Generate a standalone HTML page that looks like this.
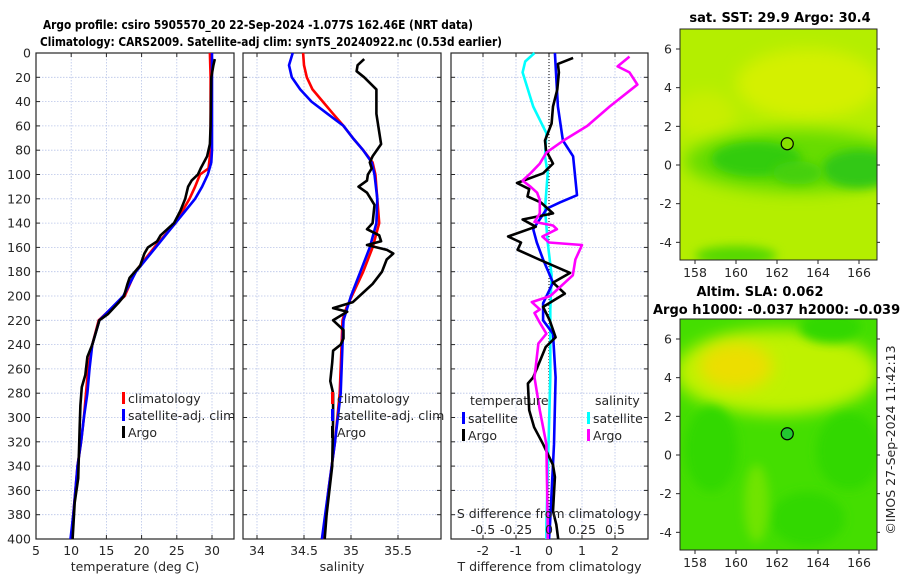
<!DOCTYPE html>
<html><head><meta charset="utf-8"><style>
html,body{margin:0;padding:0;background:#fff;}
svg{display:block;font-family:"DejaVu Sans","Liberation Sans",sans-serif;}
.tk{font-size:12.5px;fill:#262626;}
.tt{font-size:13px;font-weight:bold;fill:#000;}
</style></head><body>
<svg id="fig" width="900" height="580" viewBox="0 0 900 580" xmlns="http://www.w3.org/2000/svg">
<defs>
<filter id="blr" x="-50%" y="-50%" width="200%" height="200%"><feGaussianBlur stdDeviation="8"/></filter>
<filter id="blr2" x="-50%" y="-50%" width="200%" height="200%"><feGaussianBlur stdDeviation="5"/></filter>
<clipPath id="cm1"><rect x="680" y="29" width="197" height="231"/></clipPath>
<clipPath id="cm2"><rect x="680" y="319" width="197" height="231"/></clipPath>
</defs>
<text class="tt" x="43" y="29" textLength="430" lengthAdjust="spacingAndGlyphs" style="font-size:12.5px">Argo profile: csiro 5905570_20 22-Sep-2024 -1.077S 162.46E (NRT data)</text>
<text class="tt" x="40" y="46" textLength="462" lengthAdjust="spacingAndGlyphs" style="font-size:12.5px">Climatology: CARS2009. Satellite-adj clim: synTS_20240922.nc (0.53d earlier)</text>
<g id="panels"></g>
<g id="maps"></g>
<text class="tk" transform="translate(895,440) rotate(-90)" text-anchor="middle" font-size="12.5">©IMOS 27-Sep-2024 11:42:13</text>
</svg>
<script>
// ---- data (depth in m) ----
const tClimDepth=[0,20,80,95,100,110,120,130,140,160,180,200,220,240,260,280,300,320,340,360,380,400];
const tClimVal=[29.7,29.8,29.8,29.5,28.3,27.6,26.8,25.8,24.8,21.8,19.1,17.6,13.9,13.0,12.4,12.1,11.8,11.4,10.9,10.6,10.3,10.0];
const tSatDepth=[0,80,90,100,110,120,130,140,160,180,200,220,240,260,280,300,320,340,360,380,400];
const tSatVal=[30.0,30.0,29.9,29.4,28.6,27.6,26.2,24.8,22.0,19.2,17.4,14.0,13.0,12.6,12.3,11.8,11.4,10.9,10.6,10.3,9.9];
const tArgoDepth=[5,10,20,60,75,85,95,100,105,110,120,130,140,150,155,160,165,175,185,190,200,205,215,220,240,250,265,275,290,310,330,350,370,400];
const tArgoVal=[30.4,30.2,29.9,29.8,29.7,29.3,28.4,28.0,27.1,26.6,26.2,25.5,24.6,22.7,22.2,20.9,20.4,19.8,18.3,18.0,17.5,16.8,15.2,14.0,13.0,12.3,12.0,11.5,11.3,11.2,11.1,11.0,10.5,10.2];

const sClimDepth=[0,10,20,30,40,50,60,70,80,90,100,120,140,160,180,200,210,220,240,280,320,360,400];
const sClimVal=[34.49,34.50,34.53,34.59,34.70,34.81,34.92,35.02,35.13,35.23,35.26,35.28,35.30,35.23,35.13,35.01,34.95,34.91,34.90,34.88,34.83,34.76,34.70];
const sSatDepth=[0,10,20,30,40,50,60,70,80,90,100,120,140,160,180,200,220,240,280,320,360,400];
const sSatVal=[34.38,34.34,34.37,34.46,34.58,34.75,34.92,35.02,35.13,35.22,35.25,35.28,35.27,35.20,35.10,35.00,34.92,34.91,34.89,34.83,34.76,34.69];
const sArgoDepth=[5,10,15,20,30,50,65,75,85,90,95,100,105,110,115,125,140,145,150,155,158,162,165,170,180,190,200,205,210,213,220,228,235,240,245,255,270,280,300,340,360,380,400];
const sArgoVal=[35.14,35.07,35.06,35.14,35.27,35.27,35.30,35.32,35.23,35.20,35.22,35.18,35.17,35.08,35.17,35.25,35.23,35.17,35.30,35.32,35.17,35.38,35.45,35.38,35.33,35.23,35.09,35.02,34.81,34.96,34.81,34.92,34.92,34.89,34.81,34.80,34.78,34.81,34.81,34.80,34.77,34.74,34.72];

const dTSatDepth=[0,44,72,85,117,123,128,145,156,170,189,206,220,231,267,322,388,400];
const dTSatVal=[0.18,0.27,0.42,0.73,0.85,0.33,-0.06,-0.48,-0.37,-0.18,0.12,-0.18,-0.18,0.12,0.20,0.15,0.03,0.0];
const dTArgoDepth=[4,9,16,30,44,58,72,80,91,99,107,112,118,123,132,137,143,151,156,162,170,181,189,198,209,220,234,242,267,272,294,308,322,339,349,377,388,400];
const dTArgoVal=[0.73,0.27,0.30,0.25,0.12,0.08,-0.12,-0.09,0.12,-0.18,-0.97,-0.6,-0.65,-0.25,0.12,-0.8,-0.4,-1.24,-0.85,-0.95,-0.3,0.64,0.12,0.48,-0.18,0.02,0.2,-0.1,-0.48,-0.64,-0.6,-0.45,-0.18,0.12,0.18,0.12,0.22,0.28];
const dSSatDepth=[0,7,16,44,66,85,99,128,156,183,211,267,388,400];
const dSSatVal=[-0.11,-0.18,-0.20,-0.12,-0.02,-0.03,-0.01,-0.03,-0.01,0.02,0.01,0.01,-0.02,-0.02];
const dSArgoDepth=[3,11,16,26,44,60,72,82,91,99,105,110,115,121,132,139,142,145,151,156,158,170,183,200,205,211,214,222,231,239,267,294,322,388,400];
const dSArgoVal=[0.61,0.52,0.61,0.67,0.46,0.29,0.11,-0.02,-0.07,-0.14,-0.20,-0.14,-0.09,-0.07,-0.07,-0.11,0.03,0.06,-0.05,0.0,0.25,0.20,0.18,0.01,-0.13,-0.07,-0.11,-0.07,-0.02,-0.08,-0.11,-0.07,-0.02,-0.01,-0.01];

const depthTicks=[0,20,40,60,80,100,120,140,160,180,200,220,240,260,280,300,320,340,360,380,400];
const tTicks=[5,10,15,20,25,30];
const sTicks=[34,34.5,35,35.5];
const dTTicks=[-2,-1,0,1,2];
const dSTicks=[-0.5,-0.25,0,0.25,0.5];
const dSTickLabels=["-0.5","-0.25","0","0.25","0.5"];
const lonTicks=[158,160,162,164,166];
const latTicks=[6,4,2,0,-2,-4];
const argoLon=162.5, argoLat=1.1;

const NS="http://www.w3.org/2000/svg";
function mk(tag,attrs,parent,text){const e=document.createElementNS(NS,tag);for(const k in attrs)e.setAttribute(k,attrs[k]);if(text!==undefined)e.textContent=text;parent.appendChild(e);return e;}
const Y0=53,Y1=539;
const yD=d=>Y0+d/400*(Y1-Y0);
function lin(d0,d1,r0,r1){return v=>r0+(v-d0)/(d1-d0)*(r1-r0);}
const panels=document.getElementById('panels');

function panel(name,x0,x1,xs,ticks,labels,xlabel,showY){
  const g=mk('g',{},panels);
  
  
  depthTicks.forEach(d=>{const l=mk('line',{x1:x0,x2:x1,y1:yD(d),y2:yD(d),stroke:'#b8c4e8','stroke-width':0.8,'stroke-dasharray':'1.5,1.5'},g);
    
    mk('line',{x1:x0,x2:x0+4,y1:yD(d),y2:yD(d),stroke:'#262626'},g);mk('line',{x1:x1-4,x2:x1,y1:yD(d),y2:yD(d),stroke:'#262626'},g);
    if(showY){const t=mk('text',{class:'tk',x:x0-5,y:yD(d)+4.5,'text-anchor':'end'},g,String(d));}
  });
  ticks.forEach((v,i)=>{const x=xs(v);const l=mk('line',{x1:x,x2:x,y1:Y0,y2:Y1,stroke:'#b8c4e8','stroke-width':0.8,'stroke-dasharray':'1.5,1.5'},g);
    
    mk('line',{x1:x,x2:x,y1:Y1-4,y2:Y1,stroke:'#262626'},g);mk('line',{x1:x,x2:x,y1:Y0,y2:Y0+4,stroke:'#262626'},g);
    if(labels){const t=mk('text',{class:'tk',x:x,y:Y1+16,'text-anchor':'middle'},g,labels[i]);}
  });
  const f=mk('rect',{x:x0,y:Y0,width:x1-x0,height:Y1-Y0,fill:'none',stroke:'#262626','stroke-width':1.2},g);
  
  if(xlabel){const t=mk('text',{class:'tk',x:(x0+x1)/2,y:571,'text-anchor':'middle',"font-size":13},g,xlabel);}
  return g;
}
function line(g,name,xs,depths,vals,color,w,dash){
  const pts=depths.map((d,i)=>xs(vals[i]).toFixed(1)+','+yD(d).toFixed(1)).join(' ');
  const p=mk('polyline',{points:pts,fill:'none',stroke:color,'stroke-width':w||2.6,'stroke-linejoin':'round'},g);
  if(dash)p.setAttribute('stroke-dasharray',dash);
  
  
}
function legend(g,x,y,items){
  items.forEach((it,i)=>{const yy=y+i*17;
    mk('rect',{x:x,y:yy-9,width:3,height:12,fill:it[1]},g);
    const t=mk('text',{class:'tk',x:x+6,y:yy+2,"font-size":13},g,it[0]);
    });
}
// Panel 1: temperature
const xT=lin(5,30,36,212);
const g1=panel('temperature-panel',36,234,xT,tTicks,tTicks.map(String),'temperature (deg C)',true);
line(g1,'temperature-climatology',xT,tClimDepth,tClimVal,'#ff0000');
line(g1,'temperature-satellite',xT,tSatDepth,tSatVal,'#0000ff');
line(g1,'temperature-argo',xT,tArgoDepth,tArgoVal,'#000000');
legend(g1,122,401,[['climatology','#ff0000'],['satellite-adj. clim','#0000ff'],['Argo','#000000']]);
// Panel 2: salinity
const xS=lin(34,35.5,257,398);
const g2=panel('salinity-panel',243,441,xS,sTicks,sTicks.map(String),'salinity',false);
line(g2,'salinity-climatology',xS,sClimDepth,sClimVal,'#ff0000');
line(g2,'salinity-satellite',xS,sSatDepth,sSatVal,'#0000ff');
line(g2,'salinity-argo',xS,sArgoDepth,sArgoVal,'#000000');
legend(g2,331,401,[['climatology','#ff0000'],['satellite-adj. clim','#0000ff'],['Argo','#000000']]);
// Panel 3: differences
const xDT=lin(-1,1,516,582);
const xDS=lin(-0.25,0.25,516,582);
const g3=panel('difference-panel',451,648,xDT,dTTicks,dTTicks.map(String),'T difference from climatology',false);
const z=mk('line',{x1:xDT(0),x2:xDT(0),y1:Y0,y2:Y1,stroke:'#000','stroke-width':1,'stroke-dasharray':'1,2'},g3);

line(g3,'salinity-diff-satellite',xDS,dSSatDepth,dSSatVal,'#00ffff');
line(g3,'temperature-diff-satellite',xDT,dTSatDepth,dTSatVal,'#0000ff');
line(g3,'temperature-diff-argo',xDT,dTArgoDepth,dTArgoVal,'#000000');
line(g3,'salinity-diff-argo',xDS,dSArgoDepth,dSArgoVal,'#ff00ff');
let t=mk('text',{class:'tk',x:470,y:405,"font-size":13},g3,'temperature');
t=mk('text',{class:'tk',x:595,y:405,"font-size":13},g3,'salinity');
legend(g3,462,421,[['satellite','#0000ff'],['Argo','#000000']]);
legend(g3,587,421,[['satellite','#00ffff'],['Argo','#ff00ff']]);
t=mk('text',{class:'tk',x:549,y:518,'text-anchor':'middle',"font-size":13},g3,'S difference from climatology');
dSTicks.forEach((v,i)=>{const tt=mk('text',{class:'tk',x:xDS(v),y:534,'text-anchor':'middle'},g3,dSTickLabels[i]);
  });

// ---- maps ----
const maps=document.getElementById('maps');
const lonX=lin(158,166,695,859);
function mapAxes(name,top,title,blobs,base,markerFill){
  const latY=lin(6,0,top+20,top+136);
  const g=mk('g',{},maps);
  
  
  const c=mk('g',{'clip-path':'url(#'+(top<100?'cm1':'cm2')+')'},g);
  mk('rect',{x:680,y:top,width:197,height:231,fill:base},c);
  blobs.forEach(b=>{mk('ellipse',{cx:lonX(b[0]),cy:latY(b[1]),rx:b[2]*20.5,ry:b[3]*19.4,fill:b[4],filter:'url(#'+(b[5]||'blr')+')'},c);});
  const m=mk('circle',{cx:lonX(argoLon),cy:latY(argoLat),r:6,fill:markerFill,stroke:'#000','stroke-width':1.2},g);
  
  const f=mk('rect',{x:680,y:top,width:197,height:231,fill:'none',stroke:'#262626','stroke-width':1},g);
  
  lonTicks.forEach(v=>{const x=lonX(v);mk('line',{x1:x,x2:x,y1:top+231,y2:top+235,stroke:'#262626'},g);
    const tt=mk('text',{class:'tk',x:x,y:top+248,'text-anchor':'middle'},g,String(v));});
  latTicks.forEach(v=>{const y=latY(v);mk('line',{x1:676,x2:680,y1:y,y2:y,stroke:'#262626'},g);mk('line',{x1:877,x2:880,y1:y,y2:y,stroke:'#262626'},g);
    const tt=mk('text',{class:'tk',x:672,y:y+4.5,'text-anchor':'end'},g,String(v));});
  title.forEach(tl=>{const tt=mk('text',{class:'tt',x:tl[1],y:tl[2],'text-anchor':tl[3]||'middle'},g,tl[0]);});
}
mapAxes('sst-map',29,[['sat. SST: 29.9 Argo: 30.4',780,22]],[
  [163.5,4.2,3.5,1.8,'#d4f000'],[158.5,2.6,1.5,1.2,'#c8ee00'],
  [163,0.2,5.5,1.6,'#66dc00'],[161,0.3,2.2,0.9,'#33cc10','blr2'],[166,-0.2,1.8,1.0,'#33c818','blr2'],
  [163,-0.4,1.2,0.6,'#44d010','blr2'],[160,-4.7,2,0.5,'#55d800','blr2']
],'#b4ee00','#88e000');
mapAxes('sla-map',319,[['Altim. SLA: 0.062',760,296],['Argo h1000: -0.037 h2000: -0.039',653,314,'start']],[
  [162,4.3,5,2.2,'#bff200'],[160,4.6,1.8,1.2,'#ecde00'],[164.6,6.6,1.5,0.8,'#33d800','blr2'],
  [158.8,0.3,1.3,2.2,'#33d800','blr2'],[165.5,0.2,1.6,2.0,'#33d800','blr2'],[163.5,-3.3,1.8,1.4,'#33d800','blr2'],
  [161,-2.5,0.6,2.0,'#70e400','blr2']
],'#44de00','#22c830');
</script>
</body></html>
